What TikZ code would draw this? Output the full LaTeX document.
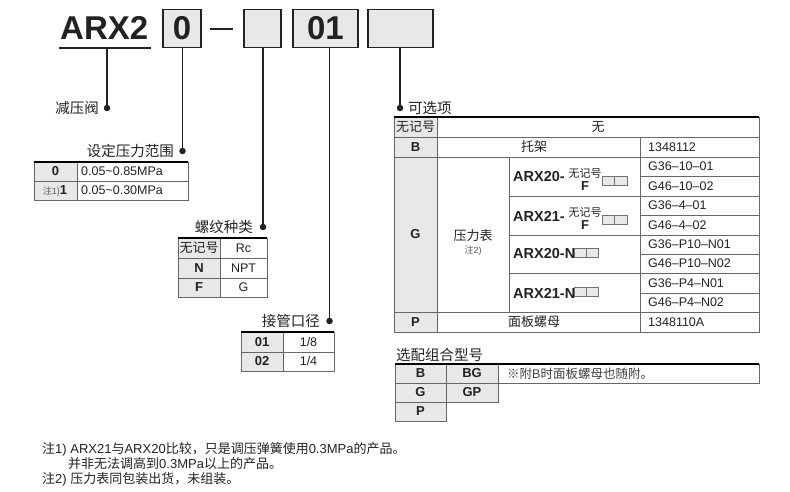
\documentclass[tikz,border=0pt]{standalone}
\usepackage{fontspec}
\setmainfont{Liberation Sans}
\newfontfamily\cjk{Noto Sans CJK SC}
\definecolor{ink}{HTML}{222222}
\definecolor{cellgray}{HTML}{E8E8E8}
\definecolor{gridgray}{HTML}{666666}
\begin{document}
\begin{tikzpicture}[x=1pt,y=-1pt,
  every node/.style={inner sep=0pt,text=ink},
  big/.style={font=\bfseries\fontsize{33}{33}\selectfont},
  hbox/.style={draw=ink,line width=1.3pt,fill=cellgray,big,minimum height=38pt},
  conn/.style={draw=ink,line width=1.4pt},
  dot/.style={circle,fill=ink,minimum size=6.5pt},
  lab/.style={font=\cjk\fontsize{14.5}{16}\selectfont},
  tx/.style={font=\fontsize{12.5}{14}\selectfont},
  cj/.style={font=\cjk\fontsize{13}{14}\selectfont},
  bx/.style={font=\bfseries\fontsize{13}{14}\selectfont},
  bxl/.style={font=\bfseries\fontsize{14.5}{15}\selectfont},
  grid/.style={draw=gridgray,line width=0.8pt},
  topline/.style={draw=black,line width=1.4pt},
  gcell/.style={fill=cellgray},
  sq/.style={draw=black!55,fill=cellgray,line width=0.6pt},
  note/.style={font=\fontsize{13}{14}\selectfont,anchor=west}
]
\useasboundingbox (0,0) rectangle (790,492);

% ---------- header ----------
\node[big,anchor=base west] (arx) at (60,40) {ARX2};
\draw[ink,line width=1.5pt] (59,48) -- (151,48);
\coordinate (ul) at (107,48);
\node[hbox,minimum width=38pt] (b0) at (182,28.5) {0};
\coordinate (dashL) at (210,29);
\coordinate (dashR) at (233,29);
\draw[ink,line width=2.2pt] (dashL) -- (dashR);
\node[hbox,minimum width=37pt] (b1) at (262.5,28.5) {};
\node[hbox,minimum width=65pt] (b2) at (325.5,28.5) {01};
\node[hbox,minimum width=65pt] (b3) at (400.5,28.5) {};

% ---------- dots and connectors ----------
\node[dot] (da) at (107,108) {};
\node[dot] (d0) at (182.5,151) {};
\node[dot] (d1) at (263,227) {};
\node[dot] (d2) at (329.5,321) {};
\node[dot] (d3) at (400,108) {};
\draw[conn] (ul) -- (da);
\draw[conn] (b0.south -| d0) -- (d0);
\draw[conn] (b1.south -| d1) -- (d1);
\draw[conn] (b2.south -| d2) -- (d2);
\draw[conn] (b3.south -| d3) -- (d3);

\node[lab,anchor=east] (la) at (99,108) {减压阀};
\node[lab,anchor=east] (l0) at (174,151) {设定压力范围};
\node[lab,anchor=east] (l1) at (253,227) {螺纹种类};
\node[lab,anchor=east] (l2) at (320,321) {接管口径};
\node[lab,anchor=west] (l3) at (408,108) {可选项};

% ---------- table 1: pressure range ----------
\fill[gcell] (34,162) rectangle (77,200);
\draw[grid] (34,162) rectangle (188,200);
\draw[grid] (77,162) -- (77,200);
\draw[grid] (34,181) -- (188,181);
\draw[topline] (34,162) -- (188,162);
\node[bx] (t1a) at (55.5,171.5) {0};
\node (t1b) at (55,190.5) {\color{black!65}{\cjk\fontsize{9}{10}\selectfont 注}{\fontsize{9}{10}\selectfont 1)}\color{ink}{\bfseries\fontsize{13}{14}\selectfont 1}};
\node[tx,anchor=west] (t1c) at (81,171.5) {0.05\char`~0.85MPa};
\node[tx,anchor=west] (t1d) at (81,190.5) {0.05\char`~0.30MPa};

% ---------- table 2: thread ----------
\fill[gcell] (178,238) rectangle (220,297);
\draw[grid] (178,238) rectangle (267,297);
\draw[grid] (220,238) -- (220,297);
\draw[grid] (178,258) -- (267,258);
\draw[grid] (178,278) -- (267,278);
\draw[topline] (178,238) -- (267,238);
\node[cj] (t2a) at (199,248) {无记号};
\node[bx] (t2b) at (199,268) {N};
\node[bx] (t2c) at (199,287.5) {F};
\node[tx] (t2d) at (243.5,248) {Rc};
\node[tx] (t2e) at (243.5,268) {NPT};
\node[tx] (t2f) at (243.5,287.5) {G};

% ---------- table 3: port size ----------
\fill[gcell] (241,332) rectangle (283,371);
\draw[grid] (241,332) rectangle (334,371);
\draw[grid] (283,332) -- (283,371);
\draw[grid] (241,352) -- (334,352);
\draw[topline] (241,332) -- (334,332);
\node[bx] (t3a) at (262,342) {01};
\node[bx] (t3b) at (262,361.5) {02};
\node[tx] (t3c) at (308.5,342) {1/8};
\node[tx] (t3d) at (308.5,361.5) {1/4};

% ---------- options table ----------
\fill[gcell] (394,117) rectangle (437,332);
\draw[grid] (394,117) rectangle (759,332);
\draw[grid] (437,117) -- (437,332);
\draw[grid] (394,137) -- (759,137);
\draw[grid] (394,157) -- (759,157);
\draw[grid] (394,312) -- (759,312);
\draw[grid] (509,157) -- (509,312);
\draw[grid] (640,137) -- (640,332);
\draw[grid] (509,196) -- (759,196);
\draw[grid] (509,235) -- (759,235);
\draw[grid] (509,273) -- (759,273);
\foreach \yy in {176,215,254,293} \draw[grid] (640,\yy) -- (759,\yy);
\draw[topline] (394,117) -- (759,117);

\node[cj] (o1) at (415.5,127) {无记号};
\node[cj] (o2) at (598,127) {无};
\node[bx] (o3) at (415.5,147) {B};
\node[cj] (o4) at (534,147) {托架};
\node[tx,anchor=west] (o5) at (648,147) {1348112};
\node[bx] (o6) at (415.5,234.5) {G};
\node[cj] (o7) at (473,236) {压力表};
\node[font=\fontsize{9}{10}\selectfont] (o8) at (473,251) {\color{black!65}{\cjk 注}2)};
\node[bx] (o9) at (415.5,322) {P};
\node[cj] (o10) at (534,322) {面板螺母};
\node[tx,anchor=west] (o11) at (648,322) {1348110A};

\foreach \yy/\t [count=\i] in {166.5/G36–10–01,186/G46–10–02,205.5/G36–4–01,225/G46–4–02,
  244.5/G36–P10–N01,263.5/G46–P10–N02,283/G36–P4–N01,302.5/G46–P4–N02}
  \node[tx,anchor=west] (gc\i) at (648,\yy) {\t};

% ARX groups with stacked suffix
\foreach \top/\nm [count=\i] in {157/ARX20-,196/ARX21-}{
  \node[bxl,anchor=west] (ag\i) at (513,\top+20) {\nm};
  \node[font=\cjk\fontsize{11}{12}\selectfont] (ak\i) at (585,\top+16) {无记号};
  \node[font=\bfseries\fontsize{13}{14}\selectfont] (af\i) at (585,\top+29.5) {F};
  \draw[sq] (602,\top+19) rectangle (614.5,\top+28);
  \draw[sq] (614.5,\top+19) rectangle (627,\top+28);
}
\foreach \cy/\nm [count=\i] in {253/ARX20-N,292/ARX21-N}{
  \node[bxl,anchor=west] (an\i) at (513,\cy+1) {\nm};
  \draw[sq] (574,\cy-4.5) rectangle (586,\cy+4.5);
  \draw[sq] (586,\cy-4.5) rectangle (598,\cy+4.5);
}

% ---------- combination table ----------
\node[lab,anchor=west] (l4) at (396,355) {选配组合型号};
\fill[gcell] (395,364) rectangle (446,421);
\fill[gcell] (446,364) rectangle (498,402);
\draw[grid] (395,364) rectangle (446,421);
\draw[grid] (446,364) rectangle (498,402);
\draw[grid] (498,364) rectangle (759,383);
\draw[grid] (395,383) -- (498,383);
\draw[grid] (395,402) -- (446,402);
\draw[topline] (395,364) -- (759,364);
\node[bx] (c1) at (420.5,373.5) {B};
\node[bx] (c2) at (472,373.5) {BG};
\node[bx] (c3) at (420.5,392.5) {G};
\node[bx] (c4) at (472,392.5) {GP};
\node[bx] (c5) at (420.5,411.5) {P};
\node[font=\fontsize{12.5}{14}\selectfont,anchor=west,text=black!75] (c6) at (507,373.5) {{\cjk ※附}B{\cjk 时面板螺母也随附。}};

% ---------- notes ----------
\node[note] (n1) at (42,449) {{\cjk 注}1) ARX21{\cjk 与}ARX20{\cjk 比较，只是调压弹簧使用}0.3MPa{\cjk 的产品。}};
\node[note] (n2) at (68,464) {{\cjk 并非无法调高到}0.3MPa{\cjk 以上的产品。}};
\node[note] (n3) at (42,479) {{\cjk 注}2) {\cjk 压力表同包装出货，未组装。}};
\end{tikzpicture}
\end{document}
